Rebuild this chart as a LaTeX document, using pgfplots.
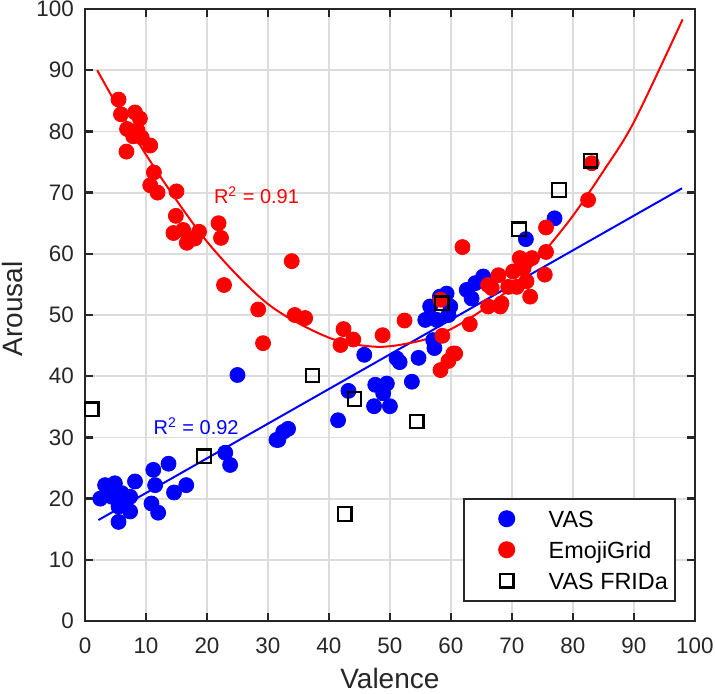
\documentclass[border=0pt]{standalone}
\usepackage{fontspec}
\setmainfont{Liberation Sans}
\usepackage{pgfplots}
\pgfplotsset{compat=1.18}
\definecolor{axgray}{HTML}{262626}
\definecolor{gridgray}{HTML}{DCDCDC}

\begin{document}
\begin{tikzpicture}
\begin{axis}[
    name=ax,
    scale only axis,
    width=304.9pt, height=306pt,
    xmin=0, xmax=100, ymin=0, ymax=100,
    xtick={0,10,...,100}, ytick={0,10,...,100},
    grid=major,
    major grid style={draw=gridgray, line width=0.9pt},
    axis line style={draw=axgray, line width=1.2pt},
    tick align=inside, tick pos=both,
    major tick length=4pt,
    every tick/.style={draw=axgray, line width=1.2pt},
    tick label style={font=\fontsize{11.2}{13}\selectfont, text=axgray},
    /pgf/number format/assume math mode=true,
    yticklabel style={xshift=-2.1pt},
    xticklabel style={yshift=-4.8pt},
    xlabel={Valence}, ylabel={Arousal},
    label style={font=\fontsize{14}{17}\selectfont, text=axgray},
    xlabel style={at={(axis description cs:0.5,-0.1095)}, anchor=base},
    ylabel style={at={(axis description cs:-0.1017,0.51)}, anchor=base},
    legend style={at={(axis description cs:0.969,0.0315)}, anchor=south east,
        draw=axgray, line width=1pt, fill=white,
        font=\fontsize{11.7}{14}\selectfont,
        inner xsep=3.5pt, inner ysep=2.25pt, row sep=0pt, column sep=6pt,
        nodes={inner xsep=0pt, inner ysep=0pt, text height=11.95pt, text depth=3.55pt},
        cells={anchor=west}},
    legend image code/.code={\path[draw=none] (0pt,0pt) -- (33pt,0pt); \draw[#1] plot coordinates {(18pt,0pt)};},
]

% VAS
\addplot[only marks, color=blue, mark=*, mark size=3.75pt] coordinates {
(2.5,20.0) (3.3,22.2) (4.9,22.5) (4.4,20.3) (6.0,20.9) (7.4,20.3) (5.5,18.7)
(6.6,19.2) (7.4,17.9) (5.5,16.2) (8.2,22.8) (11.2,24.7) (13.7,25.7) (11.5,22.2)
(10.9,19.2) (12.0,17.7) (14.6,21.0) (16.6,22.2) (23.0,27.5) (23.8,25.5) (25.0,40.2)
(31.4,29.6) (31.7,29.6) (32.5,30.9) (33.3,31.4)
(45.8,43.5) (51.1,42.9) (51.6,42.3) (54.7,43.0) (53.6,39.1) (43.2,37.6) (41.5,32.8)
(47.6,38.6) (49.5,38.8) (48.9,37.2) (47.4,35.1) (50.0,35.1) (57.3,44.6) (57.1,45.9)
(56.6,51.4) (55.8,49.2) (57.7,49.2) (59.6,50.0) (59.3,53.5) (59.9,51.4) (58.2,53.0)
(62.6,54.1) (64.0,55.2) (65.3,56.3) (63.4,52.7) (77.0,65.8) (72.3,62.4)
};

% EmojiGrid
\addplot[only marks, color=red, mark=*, mark size=3.75pt] coordinates {
(5.5,85.2) (5.9,82.8) (8.2,83.1) (9.0,82.1) (6.9,80.4) (8.6,80.2) (9.3,79.0)
(7.9,79.2) (6.8,76.7) (10.7,77.7) (11.3,73.3) (10.7,71.2) (11.9,70.0) (15.0,70.2)
(14.9,66.2) (14.5,63.4) (16.1,63.9) (16.7,61.8) (18.0,62.5) (18.7,63.6) (21.9,65.0)
(22.3,62.6) (22.8,54.9) (28.4,50.9) (29.2,45.4) (33.9,58.8) (34.4,50.0) (36.1,49.5)
(42.4,47.7) (44.0,46.0) (41.9,45.1) (48.8,46.7) (52.4,49.1) (61.9,61.1) (58.6,46.6)
(60.7,43.7) (59.6,42.5) (58.3,41.0) (63.1,48.5) (58.3,52.5) (66.1,54.9) (83.1,74.8)
(82.5,68.8) (75.6,64.3) (75.6,60.3) (75.4,56.6) (71.3,59.3) (73.3,59.3) (70.2,57.1)
(71.9,57.6) (72.4,55.5) (73.0,53.0) (67.8,56.5) (69.4,54.6) (68.3,51.9) (66.1,51.4)
(70.8,54.6) (66.7,54.4) (68.1,51.4) (60.4,43.7)
};

% VAS FRIDa
\addplot[only marks, color=black, mark=square, mark size=3.4pt, mark options={line width=1.1pt}] coordinates {
(1.1,34.6) (19.5,26.9) (37.3,40.1) (44.2,36.3) (54.4,32.6) (42.6,17.5)
(58.5,51.9) (71.2,64.0) (77.7,70.4) (82.9,75.2)
};

% fits
\addplot[blue, line width=1pt, forget plot] coordinates {(2.2,16.5) (97.9,70.7)};
\addplot[red, line width=1pt, smooth, forget plot] coordinates {
(2,90.0) (10,76.2) (20,62.0) (30,51.8) (40,46.3) (48,44.8) (55,45.8) (60,47.7)
(65,50.7) (70,54.6) (75,60.0) (80,66.2) (85,73.5) (90,81.5) (98,98.3)
};

\node[red, anchor=base west, font=\fontsize{10}{12}\selectfont] at (axis cs:20,68.25) {R\textsuperscript{2} = 0.91};
\node[blue, anchor=base west, font=\fontsize{10}{12}\selectfont] at (axis cs:10.1,30.4) {R\textsuperscript{2} = 0.92};

\legend{VAS, EmojiGrid, VAS FRIDa}
\end{axis}
\pgfresetboundingbox
\path[use as bounding box] ([xshift=-42.5pt,yshift=-36pt]ax.south west) rectangle ([xshift=10.1pt,yshift=4.5pt]ax.north east);
\end{tikzpicture}
\end{document}
